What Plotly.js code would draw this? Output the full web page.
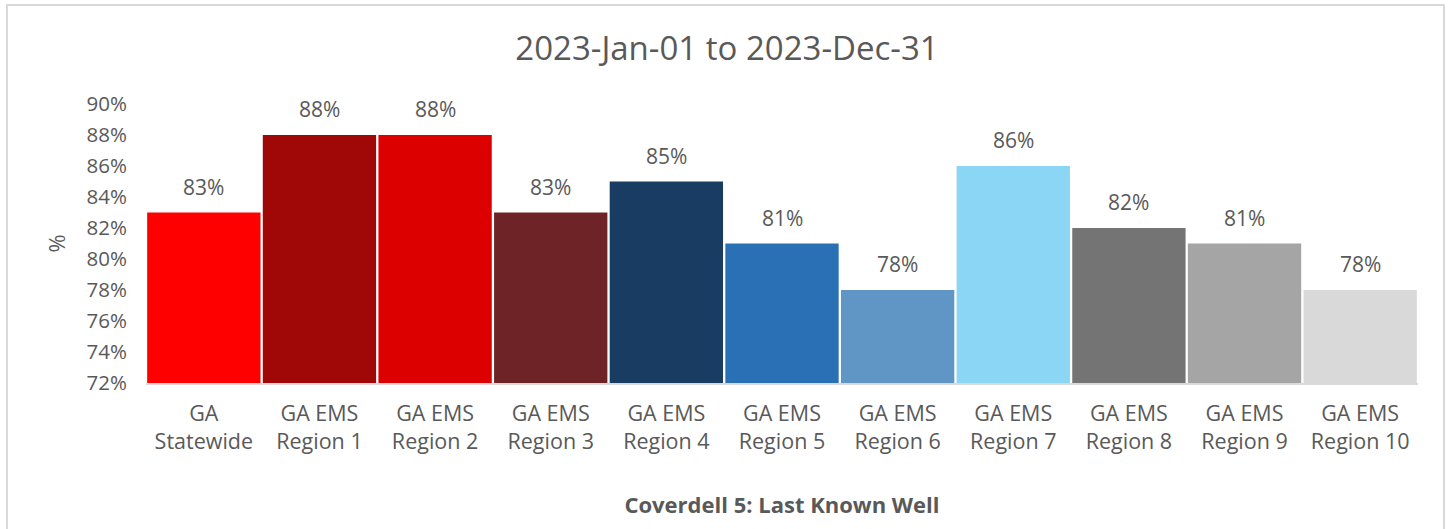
<!DOCTYPE html>
<html>
<head>
<meta charset="utf-8">
<script src="https://cdn.plot.ly/plotly-3.0.1.min.js"></script>
<style>
html,body{margin:0;padding:0;background:#fff;overflow:hidden;}
#frame{position:absolute;left:6px;top:4px;width:1439px;height:600px;border:2px solid #d9d9d9;box-sizing:border-box;}
#chart{position:absolute;left:0;top:0;width:1454px;height:529px;}
</style>
</head>
<body>
<div id="frame"></div>
<div id="chart"></div>
<script>
const categories = ["GA<br>Statewide","GA EMS<br>Region 1","GA EMS<br>Region 2","GA EMS<br>Region 3","GA EMS<br>Region 4","GA EMS<br>Region 5","GA EMS<br>Region 6","GA EMS<br>Region 7","GA EMS<br>Region 8","GA EMS<br>Region 9","GA EMS<br>Region 10"];
const values = [83, 88, 88, 83, 85, 81, 78, 86, 82, 81, 78];
const barColors = ["#FF0000","#A00808","#DC0000","#6E2426","#183C62","#2A70B4","#6096C6","#8AD6F4","#747474","#A5A5A5","#D9D9D9"];
const yTicks = [72,74,76,78,80,82,84,86,88,90];

const font = "Open Sans, sans-serif";
const grey = "#595959";

const trace = {
  type: "bar",
  x: categories,
  y: values,
  marker: {color: barColors},
  hoverinfo: "skip"
};

const annotations = categories.map((c, i) => ({
  x: c, y: values[i], xref: "x", yref: "y",
  text: values[i] + "%", showarrow: false,
  yanchor: "bottom", yshift: 10,
  font: {family: font, size: 21, color: grey}
}));

const layout = {
  width: 1454, height: 529,
  paper_bgcolor: "rgba(0,0,0,0)", plot_bgcolor: "rgba(0,0,0,0)",
  margin: {l: 146, r: 36, t: 104, b: 146},
  bargap: 0.02,
  showlegend: false,
  title: {text: "2023-Jan-01 to 2023-Dec-31", x: 0.5, xanchor: "center", y: 1 - 48/529, yanchor: "middle",
          font: {family: font, size: 33, color: grey}},
  xaxis: {
    type: "category",
    showgrid: false, zeroline: false,
    showline: true, linecolor: "#d9d9d9", linewidth: 2,
    ticks: "", ticklabelstandoff: 10,
    tickfont: {family: font, size: 21.5, color: grey},
    title: {text: "<b>Coverdell 5: Last Known Well</b>", standoff: 44,
            font: {family: font, size: 22, color: grey}}
  },
  yaxis: {
    range: [72, 90],
    tickvals: yTicks,
    ticktext: yTicks.map(v => v + "%"),
    showgrid: false, zeroline: false, showline: false,
    ticks: "", ticklabelstandoff: 18,
    tickfont: {family: font, size: 20.5, color: grey},
    title: {text: "%", standoff: 14, font: {family: font, size: 22, color: grey}}
  },
  annotations: annotations
};

Plotly.newPlot("chart", [trace], layout, {displayModeBar: false, staticPlot: true});
</script>
</body>
</html>
